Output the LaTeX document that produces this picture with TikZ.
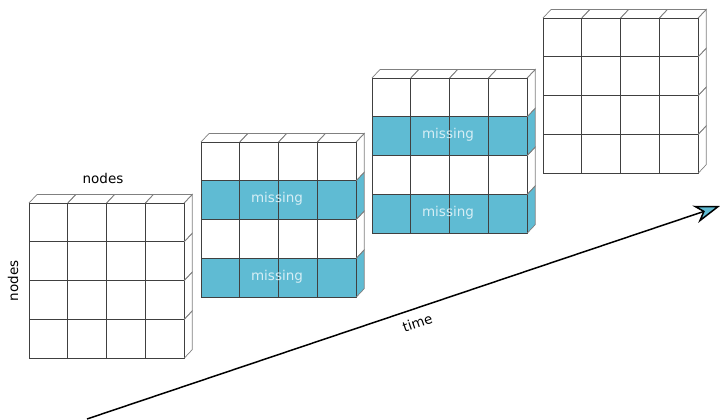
\documentclass[tikz,border=0pt]{standalone}
\usepackage{fontspec}
\setmainfont{DejaVu Sans}
\usetikzlibrary{arrows.meta}
\definecolor{miss}{HTML}{5FBBD3}
\definecolor{misstext}{HTML}{D6EEF5}
\newcommand\cellsize{38.8}
\newcommand\cubegrid[2]{%
 \begin{scope}[shift={(#1,#2)}]
  \foreach \c in {0,...,3} \foreach \r in {0,...,3} \draw[cellline] (\c*\cellsize,\r*\cellsize) rectangle ++(\cellsize,\cellsize);
  \foreach \c in {0,...,3} \draw[sideline] (\c*\cellsize,0) -- ++(8,-8.5) -- ++(\cellsize,0) -- ++(-8,8.5);
  \foreach \r in {0,...,3} \draw[sideline] (4*\cellsize,\r*\cellsize) -- ++(8,-8.5) -- ++(0,\cellsize) -- ++(-8,8.5);
 \end{scope}}
\newcommand\missrow[3]{%
 \begin{scope}[shift={(#1,#2)}]
  \fill[miss] (0,#3*\cellsize) rectangle (4*\cellsize,#3*\cellsize+\cellsize);
  \fill[miss] (4*\cellsize,#3*\cellsize) -- ++(8,-8.5) -- ++(0,\cellsize) -- ++(-8,8.5) -- cycle;
 \end{scope}}
\begin{document}
\begin{tikzpicture}[x=1pt,y=-1pt,
  cellline/.style={draw=black!75,line width=0.8pt},
  sideline/.style={draw=black!50,line width=0.7pt},
  lab/.style={font=\fontsize{13.5}{16}\selectfont,inner sep=2pt},
  misslab/.style={font=\fontsize{13.5}{16}\selectfont,text=misstext}]
\useasboundingbox (0,0) rectangle (721,420);
% missing rows (fills)
\missrow{201}{142}{1}
\missrow{201}{142}{3}
\missrow{372}{78}{1}
\missrow{372}{78}{3}
% grids
\cubegrid{29}{203}
\cubegrid{201}{142}
\cubegrid{372}{78}
\cubegrid{543}{18}
% labels
\node[misslab] (m1) at (277,199) {missing};
\node[misslab] (m2) at (277,276.5) {missing};
\node[misslab] (m3) at (448,135) {missing};
\node[misslab] (m4) at (448,212.5) {missing};
\node[lab] (ntop) at (103,178) {nodes};
\node[lab,rotate=90] (nleft) at (13,281) {nodes};
% time arrow
\coordinate (tstart) at (87,419);
\coordinate (tend) at (720,206);
\draw[line width=1.5pt,-{Stealth[length=26pt,width=18pt,inset=8pt,fill=miss]}] (tstart) -- (tend)
  node[lab,sloped,pos=0.515,below=6pt] (tlab) {time};
\end{tikzpicture}
\end{document}
